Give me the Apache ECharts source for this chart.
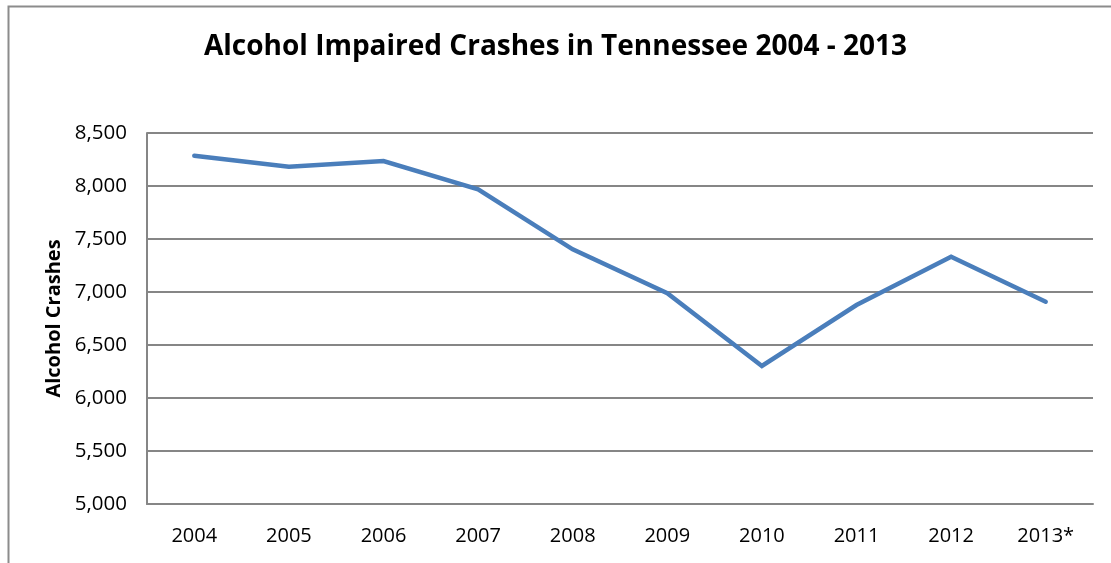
<!DOCTYPE html>
<html>
<head>
<meta charset="utf-8">
<script src="https://cdn.jsdelivr.net/npm/echarts@6/dist/echarts.min.js"></script>
<style>
html,body{margin:0;padding:0;background:#fff;}
#main{width:1111px;height:563px;}
</style>
</head>
<body>
<div id="main"></div>
<script>
const title = 'Alcohol Impaired Crashes in Tennessee 2004 - 2013';
const yAxisName = 'Alcohol Crashes';
const categories = ['2004','2005','2006','2007','2008','2009','2010','2011','2012','2013*'];
const crashes = [8286, 8182, 8236, 7969, 7403, 6988, 6302, 6877, 7333, 6908];
const yMin = 5000, yMax = 8500, yStep = 500;

const chart = echarts.init(document.getElementById('main'), null, {renderer:'canvas'});
const font = '"Open Sans", "Noto Sans", sans-serif';
chart.setOption({
  animation: false,
  backgroundColor: '#fff',
  graphic: [{
    type: 'rect', left: 6, top: 4, z: -1, silent: true,
    shape: {x: 0, y: 0, width: 1120, height: 580},
    style: {fill: 'none', stroke: '#8c8c8c', lineWidth: 2}
  }],
  title: {
    text: title, left: 'center', top: 28,
    textStyle: {fontFamily: font, fontWeight: 'bold', fontSize: 28, color: '#000'}
  },
  grid: {left: 147, right: 18, top: 133, bottom: 59, containLabel: false},
  xAxis: {
    type: 'category', data: categories, boundaryGap: true,
    axisLine: {show: true, lineStyle: {color: '#868686', width: 2}},
    axisTick: {show: false},
    axisLabel: {color: '#000', fontFamily: font, fontSize: 20, margin: 22}
  },
  yAxis: {
    type: 'value', min: yMin, max: yMax, interval: yStep,
    name: yAxisName, nameLocation: 'middle', nameGap: 83, nameRotate: 90,
    nameTextStyle: {fontFamily: font, fontWeight: 'bold', fontSize: 20, color: '#000'},
    axisLine: {show: true, lineStyle: {color: '#868686', width: 2}},
    axisTick: {show: false},
    axisLabel: {color: '#000', fontFamily: font, fontSize: 20.5, margin: 20,
      padding: [4, 0, 0, 0],
      formatter: v => v.toLocaleString('en-US')},
    splitLine: {show: true, lineStyle: {color: '#868686', width: 2}}
  },
  series: [{
    type: 'line', data: crashes, symbol: 'none',
    lineStyle: {color: '#4a7ebb', width: 4.5, cap: 'round', join: 'miter'},
    itemStyle: {color: '#4a7ebb'}
  }]
});
</script>
</body>
</html>
